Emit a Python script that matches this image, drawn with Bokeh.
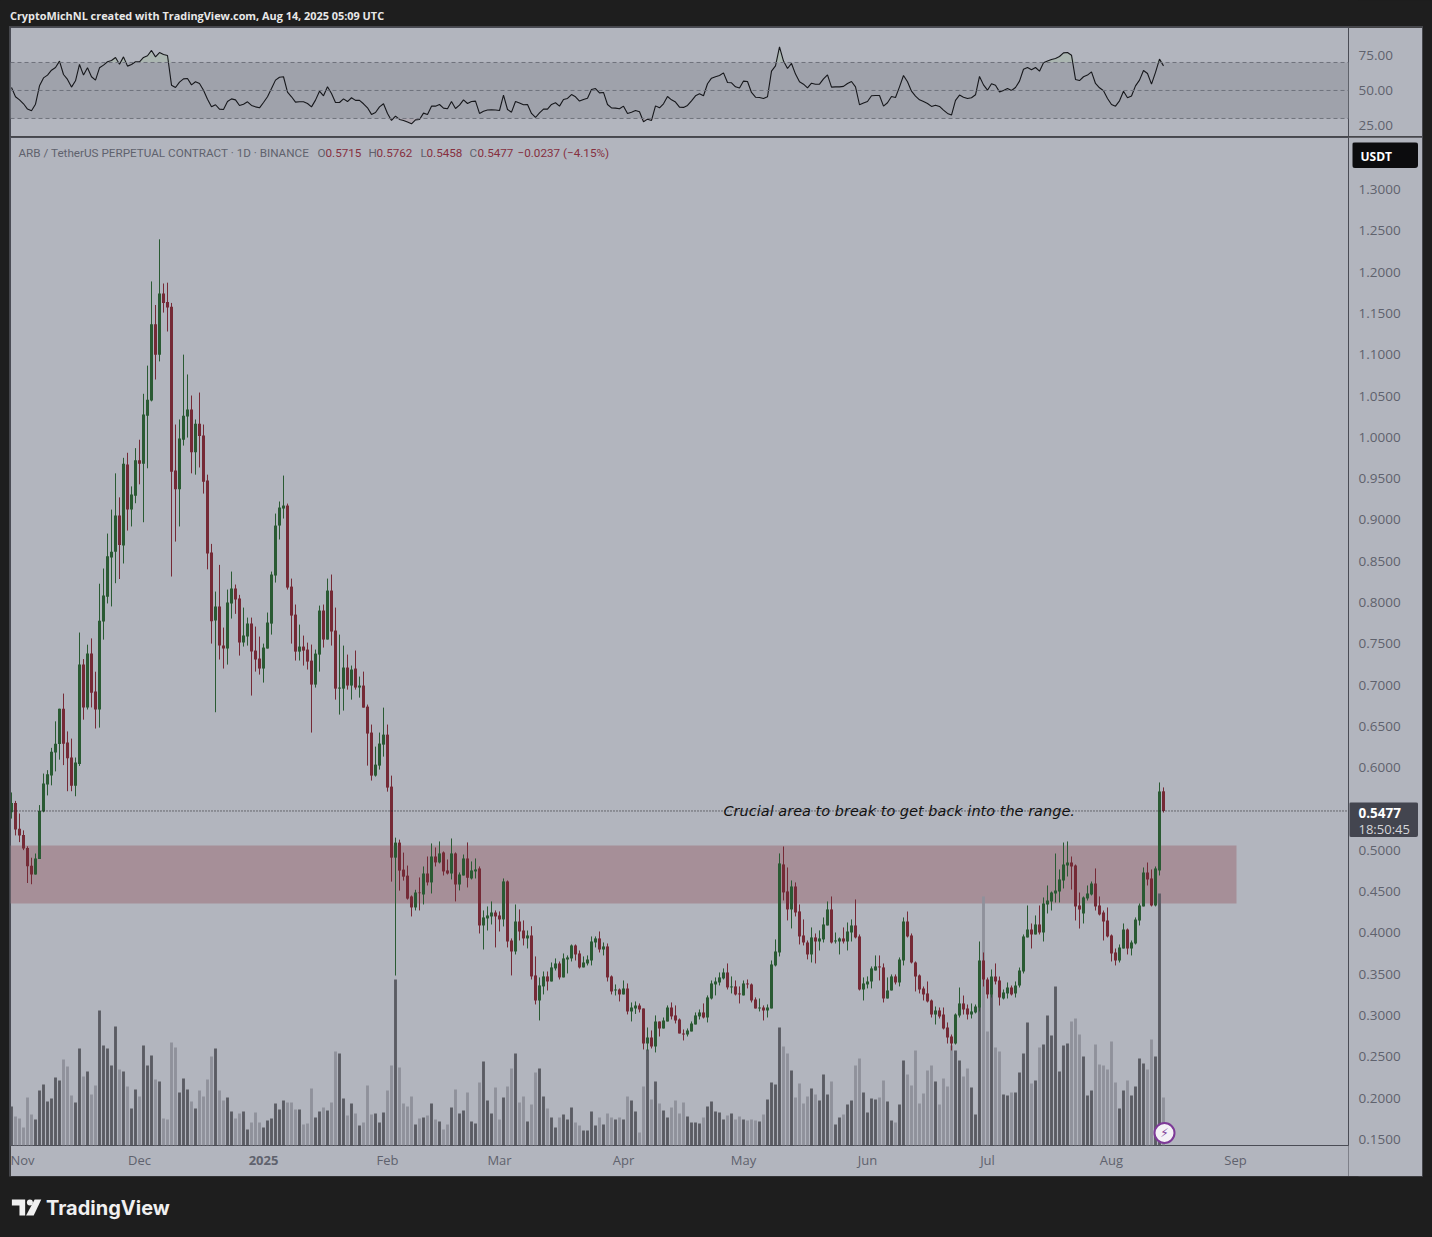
from bokeh.plotting import figure
from bokeh.models import (Range1d, LinearAxis, FixedTicker, NumeralTickFormatter, Label,
                          BoxAnnotation, Span, ColumnDataSource)
from bokeh.layouts import column
from bokeh.embed import file_html
from bokeh.resources import INLINE
from bokeh.core.properties import value

# day index 0 = 2024-11-01; the first candle is day -2
first_day = -2

direction = ("GRRRRRGGGG" "GGGRRRGGRG" "RRGGGGGRGR" "GGRGGGRGRR" "RRGGGRGRRR" "RGRRGGRRGG"
             "RRRGGGGGGR" "RRGRRRGGRG" "RRGGRGRGRR" "RGGGRRGRRR" "RGRGRGRGRR" "GRGGRGGRGG"
             "GRRGRRGRRG" "RRGGRGGRGG" "GRRGGGGRGR" "RGRGRGGRRG" "RGRGGRRRRG" "GGGRGGGGGR"
             "GRRGRRRGRG" "GGGRRGRRRR" "GRGGGRGGRG" "GRRGGGGRRG" "GRGGRRRRRR" "RGRRRRGGRR"
             "GGGRRGRRGG" "RGGGGRGRGG" "GGGGGRRRGG" "GRRRRRRGGR" "GGGGRRGGR")

high = [.5701,.5599,.5446,.5242,.5049,.4911,.4962,.5548,.5930,.5971,
        .6241,.6562,.6715,.6898,.6440,.6353,.6124,.7637,.7316,.7490,
        .7566,.7163,.8228,.8412,.8835,.9125,.9564,.9273,.9752,.9813,
        .9406,.9869,.9971,1.0527,1.0868,1.1887,1.1602,1.2397,1.1862,1.1872,
        1.1627,1.0155,1.0216,1.1001,1.0761,1.0506,1.0216,1.0542,1.0155,.9548,
        .8710,.8133,.8456,.7697,.8157,.8375,.8218,.8093,.7939,.7818,
        .7818,.7709,.7588,.7503,.7879,.8375,.9077,.9223,.9537,.9198,
        .8290,.7976,.7733,.7600,.7515,.7491,.7431,.7963,.7976,.8290,
        .8339,.7939,.7612,.7479,.7370,.7237,.7419,.7104,.7164,.6765,
        .6523,.6256,.6426,.6728,.6523,.5905,.5154,.5130,.4973,.4816,
        .4454,.4523,.4672,.4805,.4926,.5084,.5035,.5108,.4987,.4890,
        .5144,.4975,.4733,.4950,.5096,.4866,.4902,.4805,.4273,.4321,
        .4382,.4273,.4261,.4660,.4636,.3934,.4345,.4285,.4152,.4030,
        .4082,.3716,.3462,.3534,.3534,.3643,.3692,.3655,.3752,.3728,
        .3861,.3861,.3788,.3716,.3728,.3958,.3958,.4018,.3885,.3873,
        .3486,.3377,.3328,.3425,.3389,.3159,.3171,.3147,.3086,.2856,
        .2820,.3002,.2929,.2977,.3123,.3159,.3123,.2965,.2832,.2844,
        .2929,.3038,.3074,.3147,.3244,.3425,.3462,.3522,.3571,.3631,
        .3474,.3425,.3353,.3425,.3437,.3389,.3220,.3207,.3123,.3135,
        .3667,.3922,.4963,.5047,.4793,.4636,.4612,.4345,.4164,.3909,
        .4067,.3994,.4031,.4188,.4382,.4442,.4006,.3946,.4067,.4127,
        .4164,.4406,.3982,.3462,.3474,.3595,.3728,.3728,.3631,.3462,
        .3498,.3498,.3704,.4188,.4260,.3994,.3655,.3498,.3352,.3413,
        .3195,.3110,.3098,.3098,.2917,.2771,.3026,.3340,.3243,.3134,
        .3147,.3134,.3897,.3764,.3461,.3558,.3631,.3473,.3316,.3401,
        .3364,.3413,.3582,.3982,.4333,.4115,.4212,.4333,.4430,.4575,
        .4502,.4962,.4769,.5095,.5108,.4926,.4829,.4490,.4442,.4575,
        .4623,.4781,.4442,.4272,.4309,.3982,.3812,.3861,.4115,.4054,
        .3909,.4188,.4357,.4793,.4853,.4769,.4805,.5822,.5762]

body_top = [.5573,.5573,.5263,.5186,.5028,.4814,.4901,.5477,.5808,.5920,
        .6195,.6292,.6715,.6715,.6307,.6124,.6063,.7250,.7250,.7383,
        .7383,.6924,.7780,.8086,.8560,.8616,.9054,.9054,.9681,.9671,
        .9309,.9722,.9722,1.0277,1.0455,1.1368,1.1368,1.1740,1.1740,1.1638,
        1.1582,.9599,.9987,1.0262,1.0338,1.0338,1.0165,1.0165,1.0022,.9477,
        .8605,.7951,.7951,.7479,.8000,.8169,.8169,.8048,.7600,.7745,
        .7745,.7418,.7322,.7455,.7758,.8339,.8932,.9150,.9174,.9174,
        .8193,.7854,.7467,.7467,.7431,.7297,.7382,.7903,.7903,.8145,
        .8145,.7661,.6971,.7213,.7213,.7189,.7201,.6995,.6995,.6740,
        .6426,.6038,.6293,.6401,.6401,.5772,.5094,.5094,.4767,.4694,
        .4442,.4490,.4490,.4720,.4720,.4926,.4926,.4963,.4975,.4757,
        .4963,.4963,.4708,.4902,.4902,.4757,.4769,.4781,.4188,.4212,
        .4248,.4248,.4212,.4624,.4624,.3909,.4139,.4139,.4030,.3970,
        .3970,.3486,.3365,.3474,.3474,.3583,.3631,.3631,.3692,.3704,
        .3849,.3849,.3752,.3643,.3679,.3897,.3934,.3934,.3837,.3837,
        .3474,.3316,.3316,.3328,.3328,.3098,.3122,.3122,.3086,.2735,
        .2735,.2929,.2929,.2941,.3098,.3098,.3002,.2953,.2784,.2820,
        .2905,.3002,.3038,.3038,.3220,.3389,.3413,.3462,.3522,.3522,
        .3353,.3353,.3268,.3389,.3389,.3377,.3195,.3098,.3098,.3098,
        .3619,.3776,.4842,.4830,.4503,.4563,.4563,.4261,.3970,.3885,
        .3946,.3946,.3934,.4103,.4285,.4285,.3910,.3934,.3934,.4018,
        .4091,.4091,.3958,.3389,.3413,.3571,.3595,.3595,.3583,.3304,
        .3474,.3474,.3679,.4139,.4139,.3970,.3643,.3486,.3328,.3268,
        .3183,.3062,.3062,.3013,.2856,.2747,.3013,.3147,.3147,.3086,
        .3050,.3110,.3667,.3667,.3437,.3473,.3473,.3425,.3280,.3340,
        .3340,.3364,.3546,.3958,.4042,.4042,.4103,.4103,.4357,.4393,
        .4490,.4514,.4648,.4829,.4853,.4853,.4817,.4333,.4430,.4478,
        .4599,.4599,.4333,.4248,.4151,.3970,.3764,.3824,.4042,.4042,
        .3885,.4163,.4333,.4732,.4732,.4660,.4781,.5713,.5715]

body_bottom = [.5461,.5252,.5181,.5023,.4809,.4707,.4707,.4896,.5471,.5798,
        .5905,.6185,.6287,.6292,.6114,.5782,.5782,.6047,.6730,.6730,
        .6908,.6705,.6705,.7770,.8071,.8544,.8616,.8697,.8692,.9125,
        .9125,.9294,.9681,.9681,1.0262,1.0445,1.1001,1.1001,1.1627,1.1571,
        .9584,.9370,.9370,.9971,1.0252,.9818,.9818,1.0017,.9462,.8595,
        .7774,.7782,.7479,.7443,.7443,.7988,.8036,.7515,.7515,.7588,
        .7406,.7310,.7201,.7201,.7443,.7745,.8327,.8932,.9138,.8181,
        .7842,.7406,.7406,.7418,.7285,.7007,.7007,.7370,.7552,.7552,
        .7649,.6958,.6958,.6958,.6995,.6995,.6971,.6971,.6728,.6414,
        .5905,.5905,.6026,.6280,.5760,.4912,.4912,.4755,.4682,.4416,
        .4309,.4309,.4482,.4466,.4612,.4612,.4854,.4854,.4745,.4720,
        .4720,.4587,.4587,.4696,.4668,.4660,.4745,.4091,.4091,.4176,
        .4200,.4200,.4164,.4164,.3897,.3776,.3776,.4018,.3934,.3934,
        .3474,.3183,.3183,.3353,.3413,.3413,.3571,.3462,.3462,.3679,
        .3692,.3740,.3583,.3583,.3631,.3667,.3885,.3800,.3800,.3462,
        .3292,.3304,.3256,.3256,.3050,.3050,.3086,.3074,.2663,.2663,
        .2626,.2626,.2844,.2844,.2929,.2990,.2941,.2784,.2772,.2772,
        .2808,.2893,.2990,.2977,.2977,.3207,.3377,.3401,.3450,.3341,
        .3341,.3256,.3256,.3244,.3377,.3183,.3086,.3086,.3062,.3062,
        .3086,.3607,.3764,.4491,.4285,.4285,.4248,.3958,.3885,.3740,
        .3740,.3897,.3897,.3922,.4091,.3885,.3897,.3897,.3897,.3897,
        .4006,.3946,.3316,.3316,.3377,.3413,.3546,.3583,.3207,.3207,
        .3304,.3401,.3401,.3667,.3958,.3643,.3473,.3316,.3256,.3171,
        .3013,.3013,.2989,.2844,.2735,.2662,.2662,.3001,.3074,.3013,
        .3013,.3038,.3098,.3437,.3256,.3256,.3413,.3219,.3207,.3268,
        .3256,.3268,.3364,.3534,.3946,.3982,.3982,.4006,.4006,.4345,
        .4381,.4478,.4502,.4635,.4817,.4805,.4321,.4284,.4236,.4418,
        .4466,.4321,.4224,.4139,.3958,.3752,.3667,.3667,.3812,.3812,
        .3812,.3873,.4151,.4321,.4648,.4333,.4333,.4757,.5477]

low = [.5385,.5181,.5100,.5003,.4605,.4590,.4707,.4896,.5461,.5665,
        .5787,.5956,.6098,.6032,.5716,.5716,.5655,.6022,.6582,.6705,
        .6730,.6475,.6486,.7551,.7989,.7953,.8234,.8285,.8473,.8871,
        .8921,.9202,.9431,.8972,.9625,1.0435,1.0700,1.0919,1.1510,1.1281,
        .8315,.8738,.8921,.9900,.9997,.9564,.9548,.9635,.9319,.8402,
        .7503,.6672,.7310,.7201,.7249,.7806,.7863,.7358,.7467,.7479,
        .6874,.7164,.7128,.7031,.7443,.7612,.8242,.8763,.9017,.8157,
        .7503,.7298,.7298,.7237,.7189,.6426,.6971,.7164,.7455,.7552,
        .7479,.6825,.6644,.6692,.6946,.6825,.6946,.6849,.6728,.6026,
        .5845,.5893,.5978,.6135,.5711,.4622,.3485,.4513,.4634,.4404,
        .4200,.4273,.4273,.4345,.4575,.4478,.4805,.4842,.4696,.4708,
        .4648,.4382,.4515,.4696,.4551,.4648,.4660,.3994,.3800,.4030,
        .4103,.3825,.4018,.4079,.3825,.3486,.3740,.3909,.3849,.3813,
        .3437,.3135,.2941,.3256,.3304,.3413,.3546,.3437,.3462,.3510,
        .3655,.3667,.3570,.3583,.3607,.3607,.3825,.3764,.3728,.3413,
        .3256,.3244,.3171,.3256,.3014,.2929,.3020,.3038,.2590,.2578,
        .2602,.2554,.2747,.2844,.2929,.2953,.2905,.2784,.2699,.2747,
        .2808,.2893,.2953,.2965,.2917,.3195,.3244,.3365,.3437,.3316,
        .3268,.3244,.3147,.3244,.3329,.3159,.3086,.3050,.2941,.2977,
        .3086,.3595,.3716,.4394,.4152,.4055,.4200,.3861,.3849,.3680,
        .3643,.3631,.3788,.3885,.4091,.3873,.3873,.3740,.3873,.3788,
        .3897,.3934,.3304,.3183,.3329,.3329,.3546,.3425,.3159,.3207,
        .3304,.3377,.3353,.3607,.3946,.3631,.3292,.3268,.3183,.3159,
        .2977,.2892,.2965,.2832,.2662,.2578,.2650,.2977,.3013,.2953,
        .2965,.3026,.3050,.3352,.3207,.3219,.3377,.3122,.3195,.3207,
        .3243,.3219,.3340,.3510,.3946,.3812,.3982,.3982,.3897,.4236,
        .4272,.4369,.4369,.4539,.4684,.4526,.4151,.4054,.4115,.4393,
        .4454,.4272,.4212,.3909,.3946,.3655,.3607,.3643,.3812,.3740,
        .3728,.3861,.4091,.4321,.4575,.4321,.4321,.4696,.5458]

volume = [39,29,27,18,48,31,26,55,61,44,
          47,68,65,86,79,50,43,97,69,74,
          51,60,135,100,97,80,119,76,74,59,
          37,56,49,100,80,90,66,64,27,26,
          103,98,53,67,56,44,37,55,49,66,
          89,97,55,45,48,34,27,32,34,16,
          23,33,23,18,25,27,42,36,45,43,
          43,36,36,21,22,57,28,34,38,35,
          43,94,92,47,30,42,32,20,23,60,
          31,32,23,33,55,80,166,78,42,39,
          49,21,27,28,30,42,26,24,16,21,
          38,56,32,35,53,24,22,63,84,45,
          32,58,26,48,59,77,92,43,49,24,
          41,73,77,49,37,28,18,28,31,26,
          38,23,20,15,15,34,20,28,21,32,
          28,26,28,26,49,45,34,13,59,96,
          46,64,42,35,28,38,45,32,43,29,
          23,23,22,28,39,44,34,33,26,30,
          32,26,29,26,25,26,25,24,31,46,
          63,61,118,99,92,75,48,62,42,49,
          57,51,45,71,51,64,21,28,31,41,
          45,80,87,53,33,47,46,48,65,44,
          25,23,41,85,71,60,95,42,52,75,
          80,64,41,67,59,100,95,85,69,77,
          58,31,172,249,114,153,98,94,51,50,
          53,53,73,92,123,62,65,98,101,130,
          110,159,74,100,102,124,127,111,89,50,
          55,101,81,80,76,104,63,37,55,65,
          50,59,87,82,76,106,89,252,48]

rsi = [52.1,45.5,43.3,40.5,36.7,35.5,40.2,53.3,59.0,61.0,
       64.5,66.4,71.0,61.4,57.9,52.4,56.9,68.6,61.0,66.2,
       59.8,57.4,66.2,68.1,70.5,71.4,73.6,68.8,74.0,67.4,
       68.6,70.5,70.5,73.6,74.8,78.6,74.0,77.1,75.7,75.0,
       53.8,52.1,56.0,58.3,58.6,54.0,56.2,55.0,50.2,43.8,
       38.3,39.8,36.7,36.4,42.1,44.0,43.3,39.3,40.2,41.9,
       39.3,38.3,37.6,41.4,45.5,51.4,57.4,59.5,59.8,48.8,
       45.5,41.7,41.9,41.9,40.7,38.3,43.1,49.5,46.2,52.6,
       47.9,41.4,41.4,44.0,42.1,44.8,42.9,42.9,40.5,37.6,
       32.9,34.3,38.3,40.5,33.6,28.6,31.7,29.3,28.6,27.4,
       26.2,29.0,29.3,33.8,32.9,38.8,38.8,40.0,37.4,36.9,
       42.1,37.1,39.5,43.3,40.7,42.1,42.4,33.6,35.2,36.0,
       36.2,36.0,35.7,46.7,36.4,34.5,42.1,41.0,39.8,40.0,
       33.6,30.7,34.0,36.7,36.7,40.0,41.2,38.8,43.6,44.3,
       47.1,45.5,42.4,43.6,44.5,50.7,51.4,48.3,48.6,40.0,
       37.6,37.4,36.9,38.8,33.6,34.5,35.7,34.8,27.6,29.5,
       28.6,39.0,37.6,40.5,45.7,43.3,41.7,38.1,37.9,39.3,
       42.6,46.2,47.6,46.2,54.8,58.8,59.8,60.7,62.6,55.7,
       55.5,52.6,51.7,56.7,56.4,48.6,45.2,45.0,44.3,45.5,
       63.8,67.6,81.2,71.0,65.7,69.3,61.7,56.2,54.5,51.9,
       55.2,54.5,54.5,58.3,61.2,52.4,52.6,52.6,52.9,55.0,
       56.4,52.6,39.8,41.0,42.1,46.2,46.4,46.4,38.8,41.2,
       45.7,45.0,52.6,60.7,56.2,49.5,46.0,43.3,42.1,40.7,
       38.6,39.5,38.6,36.0,33.6,32.4,42.9,46.7,45.2,44.3,
       44.8,46.9,60.0,54.0,50.2,54.8,53.8,49.0,50.0,51.4,
       50.0,52.1,56.7,65.2,66.4,64.8,66.4,63.8,69.8,71.0,
       72.1,72.9,74.3,76.9,77.1,75.2,57.9,57.1,59.8,61.0,
       63.3,55.0,51.9,49.8,44.3,40.0,38.8,42.6,49.5,44.8,
       46.0,53.3,57.4,64.3,62.1,54.5,62.9,72.4,67.6]

month_days = [0, 30, 61, 92, 120, 151, 181, 212, 242, 273, 304]
month_labels = ["Nov", "Dec", "", "Feb", "Mar", "Apr", "May", "Jun", "Jul", "Aug", "Sep"]
price_ticks = [0.15 + 0.05 * i for i in range(24)]
rsi_ticks = [25, 50, 75]
rsi_levels = [30, 50, 70]
last_price = 0.5477
zone_low, zone_high = 0.4357, 0.5059
zone_end_day = 304.25

PANE = "#b2b5be"; DARK = "#1e1e1e"; LINE = "#4a4c55"; TXT = "#5f626d"
GREEN = "#2a5a33"; RED = "#752a36"; VDARK = "#5a5b63"; VLIGHT = "#8f919b"


def X(px):
    return (px - 19) / 4


def P(py):
    return 1.30 - (py - 189) / 826.09


days = [first_day + i for i in range(len(high))]
src = ColumnDataSource(dict(
    x=days, high=high, low=low, top=body_top, bottom=body_bottom, vol=volume,
    color=[GREEN if c == "G" else RED for c in direction],
    vcolor=[VDARK if c == "G" else VLIGHT for c in direction]))

x0, x1 = X(10), X(1348)

# RSI pane
r = figure(width=1412, height=110, x_range=Range1d(x0, x1), y_range=Range1d(16.4, 95),
           output_backend="svg", toolbar_location=None, x_axis_location=None, y_axis_location=None,
           background_fill_color=PANE, border_fill_color=PANE,
           min_border_left=0, min_border_right=74, min_border_top=0, min_border_bottom=0)
r.grid.visible = False
r.outline_line_color = LINE
r.add_layout(BoxAnnotation(bottom=30, top=70, fill_color="#9fa2ab", fill_alpha=1, line_color=None, level="underlay"))
for lv in rsi_levels:
    r.add_layout(Span(location=lv, dimension="width", line_color="#6f727c", line_dash="4 3", line_width=1))
rsi_days = [first_day + i for i in range(len(rsi))]
r.varea(x=rsi_days, y1=[70] * len(rsi), y2=[max(v, 70) for v in rsi], fill_color="#a9b6ae", fill_alpha=0.8)
r.varea(x=rsi_days, y1=[30] * len(rsi), y2=[min(v, 30) for v in rsi], fill_color="#a89ca3", fill_alpha=0.6)
r.line(rsi_days, rsi, line_color="#16171b", line_width=1.1)
ra = LinearAxis(ticker=FixedTicker(ticks=rsi_ticks), formatter=NumeralTickFormatter(format="0.00"))
ra.major_tick_line_color = None; ra.minor_tick_line_color = None; ra.axis_line_color = None
ra.major_tick_out = 0; ra.major_tick_in = 0; ra.minor_tick_out = 0; ra.minor_tick_in = 0
ra.major_label_standoff = 10
ra.major_label_text_color = TXT; ra.major_label_text_font = "Open Sans"; ra.major_label_text_font_size = "13.5px"
r.add_layout(ra, "right")

# Main pane
p = figure(width=1412, height=1039, x_range=Range1d(x0, x1), y_range=Range1d(P(1145), P(137)),
           output_backend="svg", toolbar_location=None, x_axis_location=None, y_axis_location=None,
           background_fill_color=PANE, border_fill_color=PANE,
           min_border_left=0, min_border_right=74, min_border_top=0, min_border_bottom=31)
p.grid.visible = False
p.outline_line_color = LINE
p.extra_y_ranges = {"vol": Range1d(0, 1008)}
p.add_layout(BoxAnnotation(right=zone_end_day, bottom=zone_low, top=zone_high,
                           fill_color="#a68f98", fill_alpha=1, line_color=None, level="underlay"))
p.vbar(x="x", top="vol", bottom=0, width=0.72, fill_color="vcolor", line_color=None, source=src, y_range_name="vol")
p.add_layout(Span(location=last_price, dimension="width", line_color="#1a1a1e", line_dash="1 2", line_width=1))
p.segment(x0="x", x1="x", y0="low", y1="high", line_color="color", line_width=1, source=src)
p.vbar(x="x", top="top", bottom="bottom", width=0.75, fill_color="color", line_color=None, source=src)

pa = LinearAxis(ticker=FixedTicker(ticks=price_ticks), formatter=NumeralTickFormatter(format="0.0000"))
pa.major_tick_line_color = None; pa.minor_tick_line_color = None; pa.axis_line_color = None
pa.major_tick_out = 0; pa.major_tick_in = 0; pa.minor_tick_out = 0; pa.minor_tick_in = 0
pa.major_label_standoff = 10
pa.major_label_text_color = TXT; pa.major_label_text_font = "Open Sans"; pa.major_label_text_font_size = "13.5px"
p.add_layout(pa, "right")

ta = LinearAxis(ticker=FixedTicker(ticks=month_days),
                major_label_overrides=dict(zip(month_days, month_labels)))
ta.major_tick_line_color = None; ta.minor_tick_line_color = None; ta.axis_line_color = None
ta.major_tick_out = 0; ta.major_tick_in = 0; ta.minor_tick_out = 0; ta.minor_tick_in = 0
ta.major_label_standoff = 5
ta.major_label_text_color = TXT; ta.major_label_text_font = "Open Sans"; ta.major_label_text_font_size = "13px"
p.add_layout(ta, "below")


def lab(fig, text, px, py, color, size="12px", font="Roboto", style="normal", align="left"):
    fig.add_layout(Label(x=X(px), y=P(py), text=text, text_color=color, text_font=font,
                         text_font_size=size, text_font_style=style, text_align=align,
                         text_baseline="middle"))


def tag(left, top, width, height, bg, radius="0px"):
    """Small figure floated over the page, in page pixels, for what lies outside the plot frame."""
    t = figure(width=width, height=height, x_range=Range1d(left, left + width),
               y_range=Range1d(top + height, top), output_backend="svg", toolbar_location=None,
               x_axis_location=None, y_axis_location=None, background_fill_color=bg, border_fill_color=bg,
               min_border=0)
    t.grid.visible = False
    t.outline_line_color = None
    t.styles = {"position": "absolute", "left": f"{left}px", "top": f"{top}px",
                "border-radius": radius, "overflow": "hidden", "z-index": "5"}
    return t


def tag_text(t, text, px, py, color, size, style="normal", align="left"):
    t.add_layout(Label(x=px, y=py, text=text, text_color=color, text_font="Open Sans",
                       text_font_size=size, text_font_style=style, text_align=align,
                       text_baseline="middle"))


# legend row
GRAY = "#5f626d"; LRED = "#86303f"
lab(p, "ARB / TetherUS PERPETUAL CONTRACT · 1D · BINANCE", 18, 152.5, GRAY, "11.7px")
for text, px, col in [("O", 317, GRAY), ("0.5715", 325, LRED), ("H", 368, GRAY), ("0.5762", 376, LRED),
                      ("L", 420, GRAY), ("0.5458", 426, LRED), ("C", 469, GRAY), ("0.5477", 477, LRED),
                      ("−0.0237 (−4.15%)", 517, LRED)]:
    lab(p, text, px, 152.5, col, "11.7px")

# annotation
lab(p, "Crucial area to break to get back into the range.", 723, 810.5, "#111111", "14.5px", "DejaVu Sans", "italic")

# price scale tags and the other bits beside the frame
t_usdt = tag(1352, 142, 66, 26, "#0c0c0e", "3px")
tag_text(t_usdt, "USDT", 1360, 155.5, "#ffffff", "12px", "bold")
t_price = tag(1349, 802, 69, 35, "#43454f", "2px")
tag_text(t_price, "0.5477", 1358, 812, "#ffffff", "13.5px", "bold")
tag_text(t_price, "18:50:45", 1358, 828, "#d5d6da", "13px")
t_year = tag(243, 1150, 40, 20, PANE)
tag_text(t_year, "2025", 263, 1160, TXT, "13px", "bold", "center")
t_sep = tag(1348, 1145, 1, 31, LINE)

# lightning badge
p.scatter(x=[X(1164)], y=[P(1132.5)], size=20, marker="circle", fill_color="#f4f1f6",
          line_color="#7d3a97", line_width=2)
p.text(x=[X(1164)], y=[P(1132.5)], text=["⚡"], text_color="#7d3a97", text_align="center",
       text_baseline="middle", text_font=value("DejaVu Sans"), text_font_size="12px")

# header strip
h = figure(width=1432, height=27, x_range=Range1d(0, 1432), y_range=Range1d(27, 0),
           output_backend="svg", toolbar_location=None, x_axis_location=None, y_axis_location=None,
           background_fill_color=DARK, border_fill_color=DARK, min_border=0)
h.grid.visible = False; h.outline_line_color = None
h.add_layout(Label(x=10, y=14.5, text="CryptoMichNL created with TradingView.com, Aug 14, 2025 05:09 UTC",
                   text_color="#e8e8e8", text_font="Open Sans", text_font_size="10.9px", text_font_style="bold",
                   text_baseline="middle"))

# footer strip
f = figure(width=1432, height=60, x_range=Range1d(0, 1432), y_range=Range1d(1236, 1176),
           output_backend="svg", toolbar_location=None, x_axis_location=None, y_axis_location=None,
           background_fill_color=DARK, border_fill_color=DARK, min_border=0)
f.grid.visible = False; f.outline_line_color = None
f.patch(x=[12, 26, 26, 20, 20, 12], y=[1199, 1199, 1215, 1215, 1205, 1205], fill_color="#f0f0f0", line_color=None)
f.scatter(x=[31], y=[1202], size=6, marker="circle", fill_color="#f0f0f0", line_color=None)
f.patch(x=[36, 43, 35, 27], y=[1199, 1199, 1215, 1215], fill_color="#f0f0f0", line_color=None)
f.add_layout(Label(x=48, y=1207, text="TradingView", text_color="#f0f0f0", text_font="Inter",
                   text_font_size="20px", text_font_style="bold", text_baseline="middle"))

for fig in (r, p):
    fig.margin = (0, 0, 0, 10)
    fig.styles = {"outline": "1px solid #46474c"}

page = column(h, r, p, f, spacing=0)
html = file_html([page, t_usdt, t_price, t_year, t_sep], INLINE)
html = html.replace("<head>", "<head><style>html,body{background:#1e1e1e;}</style>", 1)
open("out.html", "w").write(html)
